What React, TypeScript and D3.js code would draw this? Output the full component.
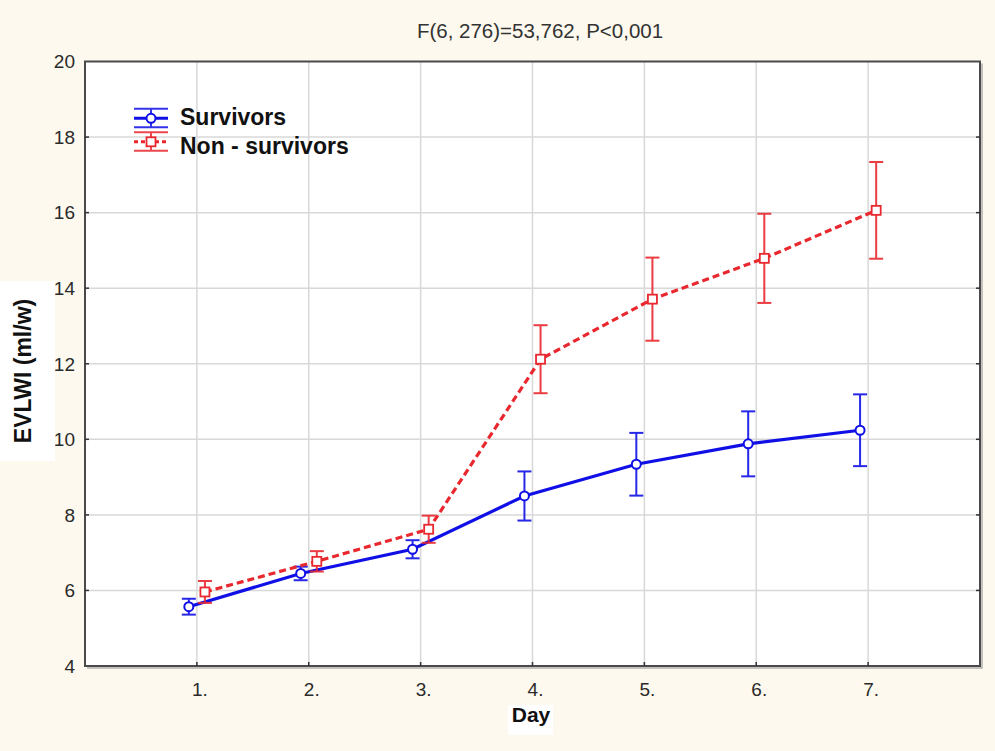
import React from "react";
import * as d3 from "d3";

const days = [1, 2, 3, 4, 5, 6, 7];
const dayLabels = ["1.", "2.", "3.", "4.", "5.", "6.", "7."];
const yTicks = [4, 6, 8, 10, 12, 14, 16, 18, 20];

const survivorsMean = [5.57, 6.45, 7.09, 8.5, 9.34, 9.88, 10.24];
const survivorsErr = [0.21, 0.18, 0.24, 0.65, 0.83, 0.86, 0.95];
const nonSurvivorsMean = [5.96, 6.77, 7.62, 12.12, 13.71, 14.79, 16.06];
const nonSurvivorsErr = [0.29, 0.27, 0.36, 0.9, 1.1, 1.18, 1.28];

const title = "F(6, 276)=53,762, P<0,001";
const xTitle = "Day";
const yTitle = "EVLWI (ml/w)";
const seriesNames = ["Survivors", "Non - survivors"];

const W = 995;
const H = 751;
const BG = "#fdf9ee";
const BLUE = "#1010e6";
const RED = "#e8282e";
const FONT = "'Liberation Sans', Arial, sans-serif";

export default function App() {
  const left = 85;
  const right = 980;
  const top = 61.5;
  const bottom = 666;

  const x = d3.scaleLinear().domain([0, 8]).range([left, right]);
  const y = d3.scaleLinear().domain([4, 20]).range([bottom, top]);

  const shift = 0.072; // horizontal offset between the two series at each day

  const series = [
    { name: seriesNames[0], mean: survivorsMean, err: survivorsErr, color: BLUE, dx: -shift, dash: undefined as string | undefined, marker: "circle" },
    { name: seriesNames[1], mean: nonSurvivorsMean, err: nonSurvivorsErr, color: RED, dx: shift, dash: "7 4", marker: "square" },
  ];

  const line = d3
    .line<[number, number]>()
    .x((d) => d[0])
    .y((d) => d[1]);

  const cap = 7;

  return (
    <div style={{ position: "fixed", left: 0, top: 0 }}>
      <svg width={W} height={H} style={{ display: "block", fontFamily: FONT }}>
        <rect x={0} y={0} width={W} height={H} fill={BG} />
        <rect x={left} y={top} width={right - left} height={bottom - top} fill="#ffffff" />

        {/* grid */}
        {yTicks.slice(1, -1).map((t) => (
          <line key={"gy" + t} x1={left} x2={right} y1={y(t)} y2={y(t)} stroke="#d8d8d8" strokeWidth={1.5} />
        ))}
        {days.map((dd) => (
          <line key={"gx" + dd} x1={x(dd)} x2={x(dd)} y1={top} y2={bottom} stroke="#d8d8d8" strokeWidth={1.5} />
        ))}

        {/* frame with a soft shadow */}
        <polyline
          points={`${right + 2},${top + 2} ${right + 2},${bottom + 2} ${left + 2},${bottom + 2}`}
          fill="none"
          stroke="#b0b0b0"
          strokeWidth={1.5}
        />
        <rect x={left} y={top} width={right - left} height={bottom - top} fill="none" stroke="#4a4a4a" strokeWidth={2} />

        {/* inside ticks */}
        {yTicks.slice(1, -1).map((t) => (
          <g key={"ty" + t}>
            <line x1={left} x2={left + 4} y1={y(t)} y2={y(t)} stroke="#333" strokeWidth={1.5} />
            <line x1={right - 4} x2={right} y1={y(t)} y2={y(t)} stroke="#333" strokeWidth={1.5} />
          </g>
        ))}
        {days.map((dd) => (
          <line key={"tx" + dd} x1={x(dd)} x2={x(dd)} y1={bottom - 4} y2={bottom} stroke="#333" strokeWidth={1.5} />
        ))}

        {/* tick labels */}
        {yTicks.map((t) => (
          <text key={"ly" + t} x={75} y={y(t)} dy="0.36em" textAnchor="end" fontSize={19} fill="#2a2a2a">
            {t}
          </text>
        ))}
        {days.map((dd, i) => (
          <text key={"lx" + dd} x={x(dd) + 3} y={696} textAnchor="middle" fontSize={19} fill="#2a2a2a">
            {dayLabels[i]}
          </text>
        ))}

        {/* title */}
        <text x={540} y={38} textAnchor="middle" fontSize={20.5} fill="#333">
          {title}
        </text>

        {/* axis titles */}
        <rect x={508} y={705} width={45} height={30} fill="#ffffff" />
        <text x={531} y={722} textAnchor="middle" fontSize={21} fontWeight="bold" fill="#111">
          {xTitle}
        </text>
        <rect x={0} y={281} width={55} height={180} fill="#ffffff" />
        <text
          transform={`translate(31,${371}) rotate(-90)`}
          textAnchor="middle"
          fontSize={23}
          fontWeight="bold"
          fill="#111"
        >
          {yTitle}
        </text>

        {/* series */}
        {series.map((s) => {
          const pts: [number, number][] = days.map((dd, i) => [x(dd + s.dx), y(s.mean[i])]);
          return (
            <g key={s.name}>
              {days.map((dd, i) => {
                const cx = x(dd + s.dx);
                const y1 = y(s.mean[i] + s.err[i]);
                const y2 = y(s.mean[i] - s.err[i]);
                return (
                  <g key={"e" + dd} stroke={s.color} strokeWidth={2} opacity={0.9}>
                    <line x1={cx} x2={cx} y1={y1} y2={y2} />
                    <line x1={cx - cap} x2={cx + cap} y1={y1} y2={y1} />
                    <line x1={cx - cap} x2={cx + cap} y1={y2} y2={y2} />
                  </g>
                );
              })}
              <path d={line(pts) ?? ""} fill="none" stroke={s.color} strokeWidth={3.2} strokeDasharray={s.dash} />
              {pts.map((p, i) =>
                s.marker === "circle" ? (
                  <circle key={"m" + i} cx={p[0]} cy={p[1]} r={4.5} fill="#ffffff" stroke={s.color} strokeWidth={2} />
                ) : (
                  <rect key={"m" + i} x={p[0] - 4.5} y={p[1] - 4.5} width={9} height={9} fill="#ffffff" stroke={s.color} strokeWidth={1.8} />
                )
              )}
            </g>
          );
        })}

        {/* legend */}
        {series.map((s, k) => {
          const cy = 118.3 + k * 23.5;
          const x0 = 134;
          const x1 = 168;
          const xm = (x0 + x1) / 2;
          return (
            <g key={"lg" + k}>
              <g stroke={s.color} strokeWidth={2} opacity={0.85}>
                <line x1={x0} x2={x1} y1={cy - 9.5} y2={cy - 9.5} />
                <line x1={x0} x2={x1} y1={cy + 9} y2={cy + 9} />
                <line x1={xm} x2={xm} y1={cy - 9.5} y2={cy + 9} />
              </g>
              <line x1={x0} x2={x1} y1={cy} y2={cy} stroke={s.color} strokeWidth={3} strokeDasharray={s.dash ? "4 3" : undefined} />
              {s.marker === "circle" ? (
                <circle cx={xm} cy={cy} r={4.5} fill="#ffffff" stroke={s.color} strokeWidth={2} />
              ) : (
                <rect x={xm - 4.5} y={cy - 4.5} width={9} height={9} fill="#ffffff" stroke={s.color} strokeWidth={1.8} />
              )}
              <text x={180} y={125 + k * 28.5} fontSize={23} fontWeight="bold" fill="#111">
                {s.name}
              </text>
            </g>
          );
        })}
      </svg>
    </div>
  );
}
